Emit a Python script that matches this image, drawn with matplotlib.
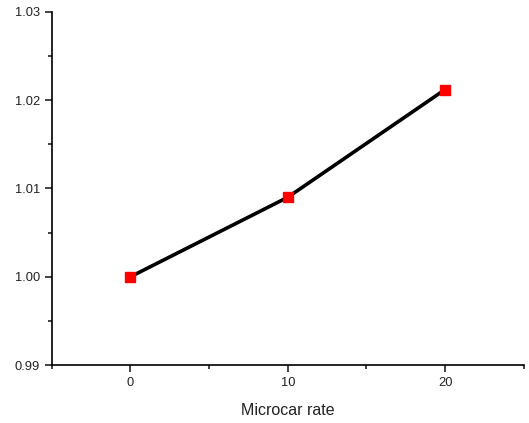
import matplotlib
matplotlib.use('Agg')
import matplotlib.pyplot as plt
from matplotlib.ticker import MultipleLocator

plt.rcParams['font.family'] = ['Liberation Sans', 'DejaVu Sans']

# data
rate = [0, 10, 20]
value = [1.000, 1.009, 1.0212]

fig = plt.figure(figsize=(5.29, 4.23), dpi=100)
ax = fig.add_axes([0.098, 0.137, 0.892, 0.835])

ax.plot(rate, value, color='black', lw=2.6, zorder=2)
ax.plot(rate, value, ls='none', marker='s', ms=7, color='#ff0000', zorder=3)

ax.set_xlim(-5, 25)
ax.set_ylim(0.99, 1.03)
ax.xaxis.set_major_locator(MultipleLocator(10))
ax.xaxis.set_minor_locator(MultipleLocator(5))
ax.yaxis.set_major_locator(MultipleLocator(0.01))
ax.yaxis.set_minor_locator(MultipleLocator(0.005))
ax.yaxis.set_major_formatter(plt.FormatStrFormatter('%.2f'))

for s in ['top', 'right']:
    ax.spines[s].set_visible(False)
for s in ['left', 'bottom']:
    ax.spines[s].set_linewidth(1.2)
ax.tick_params(which='major', length=5, width=1.2, labelsize=9.3, color='#222222',
               labelcolor='#222222')
ax.tick_params(which='minor', length=3, width=1.2, color='#222222')

ax.set_xlabel('Microcar rate', fontsize=11.5, labelpad=10, color='#222222')

fig.savefig('out.png', dpi=100)
